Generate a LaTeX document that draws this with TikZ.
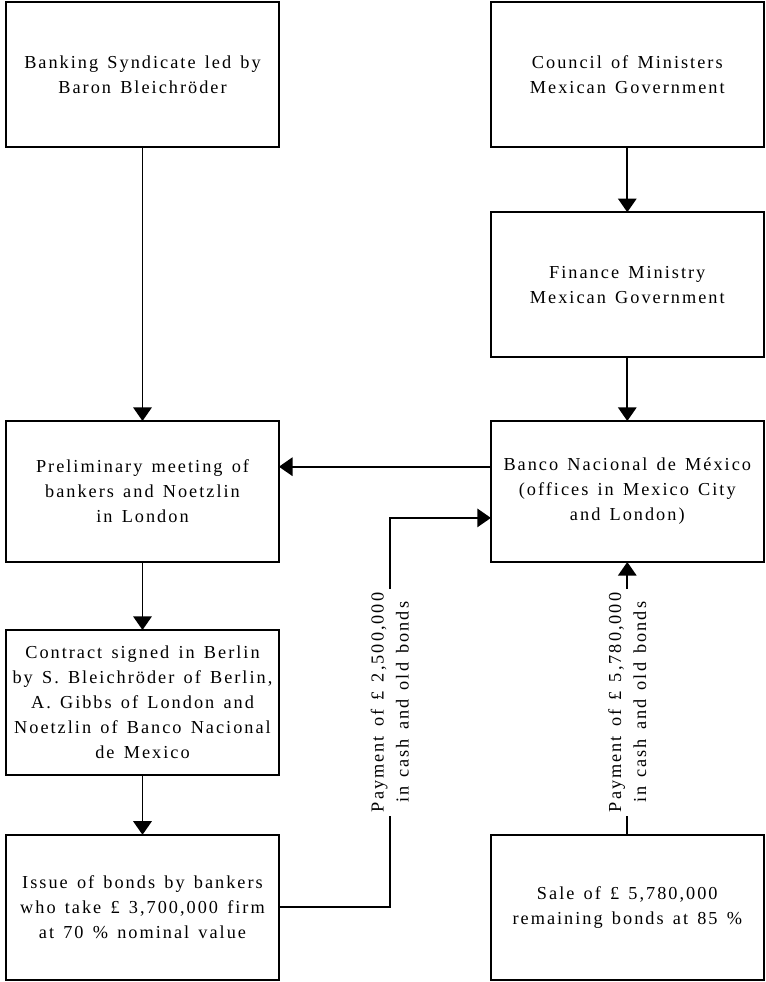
\documentclass[tikz,border=0pt]{standalone}
\usepackage{fontspec}
\setmainfont[LetterSpace=11, WordSpace=1.4]{Liberation Serif}
\usetikzlibrary{positioning,arrows.meta}

\tikzset{
  box/.style={draw, rectangle, minimum width=6.82cm, minimum height=3.62cm, align=center, inner sep=0pt, outer sep=0pt},
  paylabel/.style={rotate=90, align=center, inner sep=2pt},
}

\begin{document}
\begin{tikzpicture}[->, >={Triangle[length=3.4mm, width=4.6mm]}, line width=1.3pt, font=\fontsize{13pt}{17.8pt}\selectfont, node distance=1.6cm]

	\useasboundingbox (0,0) rectangle (19.15,-24.55);

	\node [box] (S) at (3.5625,-1.87) {Banking Syndicate led by\\Baron Bleichröder};
	\node [box] (C) [right=5.3cm of S] {Council of Ministers\\Mexican Government};
	\node [box] (F) [below=1.625cm of C] {Finance Ministry\\Mexican Government};
	\node [box, minimum height=3.525cm] (B) [below=1.6cm of F] {Banco Nacional de México\\(offices in Mexico City\\and London)};
	\node [box, minimum height=3.525cm] (P) [left=5.3cm of B] {Preliminary meeting of\\bankers and Noetzlin\\in London};
	\node [box] (K) [below=1.7cm of P] {Contract signed in Berlin\\by S. Bleichröder of Berlin,\\A. Gibbs of London and\\Noetzlin of Banco Nacional\\de Mexico};
	\node [box] (I) [below=1.5cm of K] {Issue of bonds by bankers\\who take £ 3,700,000 firm\\at 70 \% nominal value};
	\node [box] (L) [right=5.3cm of I] {Sale of £ 5,780,000\\remaining bonds at 85 \%};

	\draw (S) -- (P);
	\draw (C) -- (F);
	\draw (F) -- (B);
	\draw ([yshift=0.62cm]B.west) -- ([yshift=0.62cm]P.east);
	\draw (P) -- (K);
	\draw (K) -- (I);

	% payments back to the bank
	\path (L.north) -- (B.south) node [midway, yshift=-0.1cm, paylabel] (Q) {Payment of £ 5,780,000\\in cash and old bonds};
	\node [paylabel] (R) at ([xshift=-5.94cm]Q) {Payment of £ 2,500,000\\in cash and old bonds};

	\draw [-] (I.east) -| (R.west);
	\draw (R.east) |- ([yshift=-0.66cm]B.west);
	\draw [-] (L) -- (Q);
	\draw (Q) -- (B);

\end{tikzpicture}
\end{document}
